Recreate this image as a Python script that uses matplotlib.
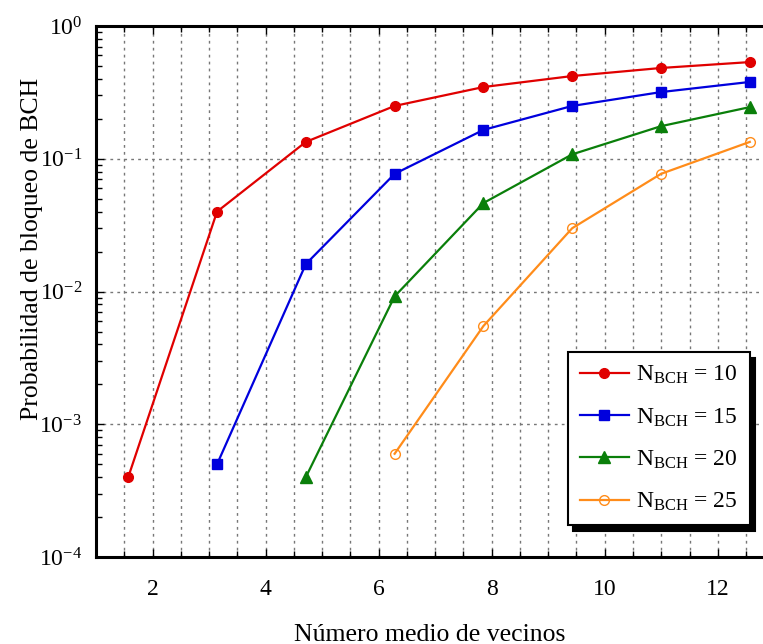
import numpy as np
import matplotlib.pyplot as plt
from matplotlib.ticker import MultipleLocator, LogLocator, NullFormatter, FuncFormatter

plt.rcParams['font.family'] = 'serif'
plt.rcParams['font.serif'] = ['Liberation Serif', 'DejaVu Serif']
plt.rcParams['mathtext.fontset'] = 'custom'
plt.rcParams['mathtext.rm'] = 'Liberation Serif'
plt.rcParams['mathtext.it'] = 'Liberation Serif:italic'
plt.rcParams['axes.unicode_minus'] = False

# Mean number of neighbours (multiples of pi/2)
x = np.arange(1, 9) * np.pi / 2

p10 = [4.0e-4, 0.040, 0.134, 0.25, 0.347, 0.42, 0.483, 0.535]
p15 = [5.0e-4, 0.0161, 0.077, 0.165, 0.25, 0.318, 0.379]
p20 = [4.0e-4, 0.0092, 0.0464, 0.108, 0.176, 0.245]
p25 = [6.0e-4, 0.0055, 0.030, 0.077, 0.134]

fig = plt.figure(figsize=(7.63, 6.44), dpi=100)
ax = fig.add_axes([0.1258, 0.135, 0.8742, 0.8246])

ax.plot(x, p10, color='#e00000', marker='o', ms=7, lw=1.6, label=r'$\mathrm{N_{BCH}}$ = 10')
ax.plot(x[1:], p15, color='#0000dd', marker='s', ms=7, lw=1.6, label=r'$\mathrm{N_{BCH}}$ = 15')
ax.plot(x[2:], p20, color='#0a7f0a', marker='^', ms=8, lw=1.6, label=r'$\mathrm{N_{BCH}}$ = 20')
ax.plot(x[3:], p25, color='#ff8c1a', marker='o', ms=7, mfc='none', lw=1.6, label=r'$\mathrm{N_{BCH}}$ = 25')

ax.set_yscale('log')
ax.set_xlim(1.0, 12.8)
ax.set_ylim(1e-4, 1)
ax.xaxis.set_major_locator(MultipleLocator(2))
ax.xaxis.set_minor_locator(MultipleLocator(0.5))
ax.yaxis.set_major_locator(LogLocator(base=10, numticks=10))
ax.yaxis.set_major_formatter(FuncFormatter(lambda v, p: r'$\mathrm{10^{%d}}$' % round(np.log10(v))))
ax.yaxis.set_minor_locator(LogLocator(base=10, subs=np.arange(2, 10), numticks=10))
ax.yaxis.set_minor_formatter(NullFormatter())

ax.grid(True, which='both', axis='x', color='#777777', linestyle=(0, (2, 3)), lw=1)
ax.grid(True, which='major', axis='y', color='#777777', linestyle=(0, (2, 3)), lw=1)

ax.spines['right'].set_visible(False)
for s in ['left', 'bottom', 'top']:
    ax.spines[s].set_linewidth(2.2)

ax.tick_params(which='both', direction='in', top=True, right=False, labelsize=17)
ax.tick_params(axis='x', pad=16)
ax.tick_params(axis='y', pad=10)
ax.tick_params(which='major', length=6, width=1)
ax.tick_params(which='minor', length=4, width=1)

ax.set_xlabel('Número medio de vecinos', fontsize=18.5, labelpad=17)
ax.set_ylabel('Probabilidad de bloqueo de BCH', fontsize=18.5)
ax.yaxis.set_label_coords(-0.08, 0.58)

leg = ax.legend(loc='lower right', bbox_to_anchor=(0.98, 0.06), borderaxespad=0, fontsize=17,
                frameon=True, fancybox=False, edgecolor='black', framealpha=1, handlelength=2.1,
                labelspacing=0.85, borderpad=0.5, handletextpad=0.3,
                shadow={'color': 'black', 'alpha': 1, 'ox': 4, 'oy': -4})
leg.get_frame().set_linewidth(1.5)

fig.savefig('out.png', dpi=100)
